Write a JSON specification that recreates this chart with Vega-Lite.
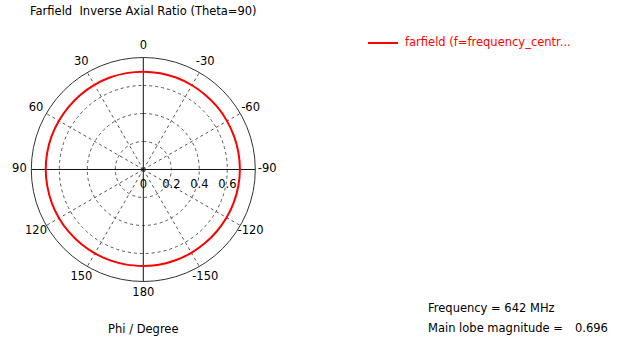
{
  "$schema": "https://vega.github.io/schema/vega-lite/v6.json",
  "width": 619,
  "height": 340,
  "autosize": {"type": "none"},
  "padding": 0,
  "background": "white",
  "config": {
    "view": {"stroke": null},
    "font": "DejaVu Sans",
    "text": {"font": "DejaVu Sans", "fontSize": 11.5, "color": "#000"}
  },
  "datasets": {
    "curve": [
      {"phi": -180, "r": 0.690}, {"phi": -170, "r": 0.689}, {"phi": -160, "r": 0.688}, {"phi": -150, "r": 0.687},
      {"phi": -140, "r": 0.686}, {"phi": -130, "r": 0.686}, {"phi": -120, "r": 0.687}, {"phi": -110, "r": 0.688},
      {"phi": -100, "r": 0.689}, {"phi": -90, "r": 0.690}, {"phi": -80, "r": 0.690}, {"phi": -70, "r": 0.690},
      {"phi": -60, "r": 0.691}, {"phi": -50, "r": 0.692}, {"phi": -40, "r": 0.693}, {"phi": -30, "r": 0.695},
      {"phi": -20, "r": 0.697}, {"phi": -10, "r": 0.698}, {"phi": 0, "r": 0.699}, {"phi": 10, "r": 0.699},
      {"phi": 20, "r": 0.699}, {"phi": 30, "r": 0.698}, {"phi": 40, "r": 0.697}, {"phi": 50, "r": 0.696},
      {"phi": 60, "r": 0.696}, {"phi": 70, "r": 0.697}, {"phi": 80, "r": 0.697}, {"phi": 90, "r": 0.697},
      {"phi": 100, "r": 0.696}, {"phi": 110, "r": 0.696}, {"phi": 120, "r": 0.695}, {"phi": 130, "r": 0.694},
      {"phi": 140, "r": 0.693}, {"phi": 150, "r": 0.692}, {"phi": 160, "r": 0.691}, {"phi": 170, "r": 0.690},
      {"phi": 180, "r": 0.690}
    ],
    "rings": [{"r": 0.2}, {"r": 0.4}, {"r": 0.6}],
    "outer": [{"r": 0.8}],
    "spokes": [
      {"phi": 30, "r1": 0, "r2": 0.8}, {"phi": 60, "r1": 0, "r2": 0.8}, {"phi": 120, "r1": 0, "r2": 0.8},
      {"phi": 150, "r1": 0, "r2": 0.8}, {"phi": -30, "r1": 0, "r2": 0.8}, {"phi": -60, "r1": 0, "r2": 0.8},
      {"phi": -120, "r1": 0, "r2": 0.8}, {"phi": -150, "r1": 0, "r2": 0.8}
    ],
    "axes": [
      {"phi": 0, "r1": -0.8, "r2": 0.8}, {"phi": 90, "r1": -0.8, "r2": 0.8}
    ],
    "angleLabels": [
      {"phi": 0, "label": "0"}, {"phi": 30, "label": "30"}, {"phi": 60, "label": "60"}, {"phi": 90, "label": "90"},
      {"phi": 120, "label": "120"}, {"phi": 150, "label": "150"}, {"phi": 180, "label": "180"},
      {"phi": -30, "label": "-30"}, {"phi": -60, "label": "-60"}, {"phi": -90, "label": "-90"},
      {"phi": -120, "label": "-120"}, {"phi": -150, "label": "-150"}
    ],
    "radialLabels": [
      {"r": 0, "label": "0"}, {"r": 0.2, "label": "0.2"}, {"r": 0.4, "label": "0.4"}, {"r": 0.6, "label": "0.6"}
    ]
  },
  "layer": [
    {
      "data": {"name": "rings"},
      "mark": {"type": "arc", "theta": 0, "theta2": 6.2832, "filled": false, "stroke": "#555", "strokeWidth": 1, "strokeDash": [3, 3]},
      "encoding": {
        "x": {"datum": 0, "type": "quantitative", "scale": {"domain": [-1.02357, 3.39786], "nice": false, "zero": false}, "axis": null},
        "y": {"datum": 0, "type": "quantitative", "scale": {"domain": [-1.21786, 1.21071], "nice": false, "zero": false}, "axis": null},
        "radius": {"field": "r", "type": "quantitative", "stack": null, "scale": {"type": "linear", "domain": [0, 1], "range": [0, 140], "zero": true, "nice": false}}
      }
    },
    {
      "data": {"name": "spokes"},
      "transform": [
        {"calculate": "-datum.r1*sin(datum.phi*PI/180)", "as": "x1"},
        {"calculate": "datum.r1*cos(datum.phi*PI/180)", "as": "y1"},
        {"calculate": "-datum.r2*sin(datum.phi*PI/180)", "as": "x2"},
        {"calculate": "datum.r2*cos(datum.phi*PI/180)", "as": "y2"}
      ],
      "mark": {"type": "rule", "stroke": "#555", "strokeWidth": 1, "strokeDash": [3, 3]},
      "encoding": {
        "x": {"field": "x1", "type": "quantitative"},
        "y": {"field": "y1", "type": "quantitative"},
        "x2": {"field": "x2"},
        "y2": {"field": "y2"}
      }
    },
    {
      "data": {"name": "axes"},
      "transform": [
        {"calculate": "-datum.r1*sin(datum.phi*PI/180)", "as": "x1"},
        {"calculate": "datum.r1*cos(datum.phi*PI/180)", "as": "y1"},
        {"calculate": "-datum.r2*sin(datum.phi*PI/180)", "as": "x2"},
        {"calculate": "datum.r2*cos(datum.phi*PI/180)", "as": "y2"}
      ],
      "mark": {"type": "rule", "stroke": "#111", "strokeWidth": 1},
      "encoding": {
        "x": {"field": "x1", "type": "quantitative"},
        "y": {"field": "y1", "type": "quantitative"},
        "x2": {"field": "x2"},
        "y2": {"field": "y2"}
      }
    },
    {
      "data": {"name": "outer"},
      "mark": {"type": "arc", "theta": 0, "theta2": 6.2832, "filled": false, "stroke": "#333", "strokeWidth": 1},
      "encoding": {
        "x": {"datum": 0, "type": "quantitative"},
        "y": {"datum": 0, "type": "quantitative"},
        "radius": {"field": "r", "type": "quantitative", "stack": null, "scale": {"type": "linear", "domain": [0, 1], "range": [0, 140], "zero": true, "nice": false}}
      }
    },
    {
      "data": {"name": "curve"},
      "transform": [
        {"calculate": "-datum.r*sin(datum.phi*PI/180)", "as": "px"},
        {"calculate": "datum.r*cos(datum.phi*PI/180)", "as": "py"}
      ],
      "mark": {"type": "line", "strokeWidth": 2, "interpolate": "catmull-rom"},
      "encoding": {
        "x": {"field": "px", "type": "quantitative"},
        "y": {"field": "py", "type": "quantitative"},
        "order": {"field": "phi", "type": "quantitative"},
        "color": {
          "datum": "farfield (f=frequency_centr...",
          "type": "nominal",
          "scale": {"range": ["#ff0000"]},
          "legend": {
            "title": null,
            "orient": "none",
            "legendX": 367,
            "legendY": 27,
            "padding": 0,
            "symbolType": "stroke",
            "symbolSize": 900,
            "symbolStrokeWidth": 2,
            "symbolStrokeColor": "#ff0000",
            "labelColor": "#ff0000",
            "labelFont": "DejaVu Sans",
            "labelFontSize": 11.5,
            "labelOffset": 6,
            "labelLimit": 400
          }
        }
      }
    },
    {
      "data": {"name": "angleLabels"},
      "transform": [
        {"calculate": "-0.885*sin(datum.phi*PI/180)", "as": "lx"},
        {"calculate": "0.885*cos(datum.phi*PI/180)", "as": "ly"}
      ],
      "mark": {"type": "text", "align": "center", "baseline": "middle"},
      "encoding": {
        "x": {"field": "lx", "type": "quantitative"},
        "y": {"field": "ly", "type": "quantitative"},
        "text": {"field": "label"}
      }
    },
    {
      "data": {"name": "radialLabels"},
      "mark": {"type": "text", "align": "center", "baseline": "alphabetic"},
      "encoding": {
        "x": {"field": "r", "type": "quantitative"},
        "y": {"datum": -0.134, "type": "quantitative"},
        "text": {"field": "label"}
      }
    },
    {
      "data": {"values": [{"t": "Farfield\u00a0 Inverse Axial Ratio (Theta=90)"}]},
      "mark": {"type": "text", "align": "center", "baseline": "alphabetic"},
      "encoding": {
        "x": {"datum": 0, "type": "quantitative"},
        "y": {"datum": 1.1036, "type": "quantitative"},
        "text": {"field": "t"}
      }
    },
    {
      "data": {"values": [{"t": "Phi / Degree"}]},
      "mark": {"type": "text", "align": "center", "baseline": "alphabetic"},
      "encoding": {
        "x": {"datum": 0, "type": "quantitative"},
        "y": {"datum": -1.17, "type": "quantitative"},
        "text": {"field": "t"}
      }
    },
    {
      "data": {"values": [{"t": "Frequency = 642 MHz"}]},
      "mark": {"type": "text", "align": "left", "baseline": "alphabetic"},
      "encoding": {
        "x": {"datum": 2.0336, "type": "quantitative"},
        "y": {"datum": -1.0157, "type": "quantitative"},
        "text": {"field": "t"}
      }
    },
    {
      "data": {"values": [{"t": "Main lobe magnitude ="}]},
      "mark": {"type": "text", "align": "left", "baseline": "alphabetic"},
      "encoding": {
        "x": {"datum": 2.0336, "type": "quantitative"},
        "y": {"datum": -1.1586, "type": "quantitative"},
        "text": {"field": "t"}
      }
    },
    {
      "data": {"values": [{"t": "0.696"}]},
      "mark": {"type": "text", "align": "left", "baseline": "alphabetic"},
      "encoding": {
        "x": {"datum": 3.0836, "type": "quantitative"},
        "y": {"datum": -1.1586, "type": "quantitative"},
        "text": {"field": "t"}
      }
    }
  ]
}
